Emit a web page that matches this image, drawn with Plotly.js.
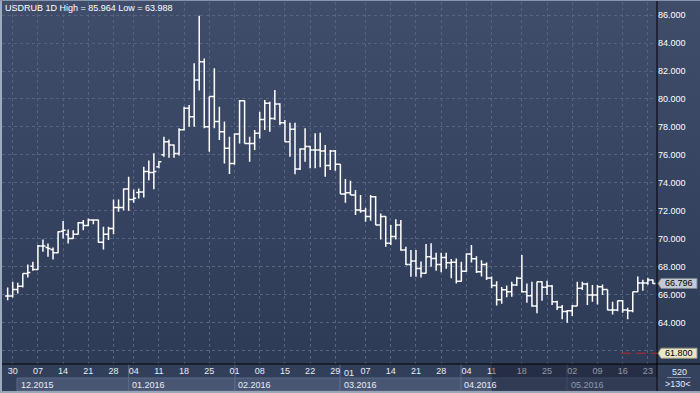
<!DOCTYPE html>
<html><head><meta charset="utf-8">
<script src="https://cdn.plot.ly/plotly-3.0.1.min.js"></script>
<style>
html,body{margin:0;padding:0;background:#2e3b57;}
#chart{width:700px;height:393px;background:linear-gradient(to bottom,#3f4d6b 0px,#2e3b57 364px,#2e3b57 393px);}
</style></head><body><div id="chart"></div>
<script>
// ---- data (daily USDRUB bars, oldest first) ----
const openP = [65.89,65.89,66.36,66.60,67.51,68.03,67.79,69.47,69.37,69.23,
 68.99,70.54,70.30,70.02,70.32,71.14,70.95,71.33,71.33,69.75,
 70.32,70.73,72.23,72.23,73.55,72.80,73.30,73.35,74.80,74.73,
 75.15,76.00,76.94,76.71,76.10,77.80,79.33,78.73,81.36,82.67,
 78.02,80.17,78.38,77.66,76.47,75.39,77.49,79.88,76.82,76.82,
 77.54,78.54,79.69,78.61,79.64,78.30,76.94,77.83,74.99,76.42,
 76.60,76.35,76.35,76.28,75.23,76.28,75.32,73.20,73.29,73.13,
 72.05,72.00,71.58,73.01,70.98,71.58,69.67,70.15,70.98,69.19,
 68.16,68.40,67.87,67.52,68.71,68.59,68.15,68.65,68.28,68.32,
 66.95,67.66,68.90,68.57,67.64,68.15,67.18,66.65,65.63,66.35,
 66.21,66.68,67.16,66.21,65.92,65.18,66.92,66.52,66.61,65.49,
 65.09,64.78,64.85,65.18,66.45,66.76,65.97,65.97,66.56,66.37,
 64.89,64.89,65.55,64.90,64.85,66.21,66.82,66.82,67.05];
const highP = [66.51,66.91,66.84,67.51,68.15,68.34,69.54,69.94,69.66,69.37,
 70.54,71.26,70.66,70.61,71.20,71.33,71.45,71.38,71.35,70.85,
 70.85,72.81,72.81,73.59,74.43,73.52,73.60,75.15,75.60,76.11,
 75.56,77.30,77.10,76.75,77.90,79.45,79.57,82.55,85.964,82.90,
 80.17,82.20,79.45,78.38,77.30,77.54,79.93,79.90,77.30,77.78,
 79.09,79.93,79.80,80.64,79.69,78.50,78.30,78.30,76.47,77.90,
 76.65,77.54,77.59,76.71,76.35,76.35,75.32,74.27,74.15,73.49,
 73.13,72.22,73.13,73.05,71.80,71.60,70.98,71.39,71.34,69.43,
 69.19,69.19,68.36,69.62,69.67,69.00,69.00,69.00,68.55,68.59,
 68.35,68.95,69.55,68.75,68.45,68.30,67.30,66.95,66.55,66.65,
 66.92,67.28,68.83,66.80,66.92,66.92,66.95,66.99,66.68,65.56,
 65.25,64.89,65.25,66.92,66.92,66.85,66.68,66.68,66.72,66.37,
 65.49,65.58,65.61,65.05,66.21,67.30,67.06,67.20,67.08];
const lowP = [65.60,65.79,66.08,66.51,67.22,67.70,67.75,69.06,68.70,68.51,
 68.95,70.02,69.66,70.00,70.30,70.61,70.90,71.04,69.70,69.23,
 69.90,70.32,71.92,72.04,72.00,72.57,72.88,72.95,74.19,73.53,
 75.04,75.87,75.80,75.80,75.95,77.75,78.02,78.02,80.60,77.90,
 76.23,77.90,77.06,75.39,74.63,75.30,76.82,76.82,75.51,76.35,
 77.18,77.78,77.66,78.50,78.14,76.94,75.87,74.61,74.92,75.51,
 75.04,75.04,75.11,74.44,74.92,74.87,73.20,72.58,73.13,71.70,
 71.86,71.22,71.29,70.98,69.95,69.43,69.55,69.95,69.14,68.12,
 67.28,67.28,67.23,67.50,67.99,67.70,67.60,67.85,67.16,66.80,
 66.92,67.64,68.30,67.55,67.30,67.04,66.45,65.22,65.35,65.80,
 65.85,66.61,66.14,65.42,65.13,64.66,65.56,65.97,65.25,64.89,
 64.23,63.988,64.46,65.18,66.33,65.25,65.49,65.28,65.97,64.87,
 64.58,64.80,64.70,64.23,64.74,66.17,66.28,66.70,66.76];
const closeP = [65.89,66.36,66.60,67.51,67.58,67.79,69.47,69.47,69.30,68.99,
 70.49,70.61,70.02,70.32,71.14,70.95,71.33,71.33,69.75,70.32,
 70.73,72.23,72.23,73.55,72.80,72.90,73.35,74.80,74.73,74.80,
 75.51,76.94,76.71,76.10,77.80,79.33,78.73,81.36,82.67,78.02,
 80.17,78.38,77.66,76.47,75.39,77.49,79.88,76.82,76.82,77.54,
 78.54,79.69,78.61,79.64,78.30,76.94,77.83,74.99,76.42,76.60,
 76.35,76.35,76.28,75.23,76.28,75.32,73.20,73.29,73.13,72.05,
 72.00,71.58,73.01,70.98,71.58,69.67,70.15,70.98,69.19,68.16,
 68.40,67.87,67.52,68.71,68.59,68.15,68.65,68.28,68.32,66.95,
 67.66,68.90,68.57,67.64,68.15,67.18,66.65,65.63,66.35,66.21,
 66.68,67.16,66.21,65.92,65.18,66.92,66.52,66.61,65.49,65.09,
 64.78,64.85,65.18,66.45,66.76,65.97,65.97,66.56,66.37,64.89,
 64.89,65.55,64.90,64.85,66.21,66.82,66.82,67.05,66.796];

// day tick labels (bar index of each labelled day)
const dayTickIndex = [1,6,11,16,21,25,30,35,40,45,50,55,60,65,71,76,81,86,91,96,102,107,112,117,122,127];
const dayTickText  = ['30','07','14','21','28','04','11','18','25','01','08','15','22','29','07','14','21','28','04','11','18','25','02','09','16','23'];
const monthLabels  = ['12.2015','01.2016','02.2016','03.2016','04.2016','05.2016'];
const priceTicks   = [62,64,66,68,70,72,74,76,78,80,82,84,86];
const levelLine    = 61.8;
const symbol = 'USDRUB', period = '1D';
const barsCount = '520', zoomText = '>130<';

// ---- layout helpers (pixel -> paper) ----
const L = 2, R = 657, T = 2, B = 364;
const xp = px => (px - L) / (R - L);
const yp = py => (B - py) / (B - T);

const barIdx = openP.map((_, i) => i);
const lastClose = closeP[closeP.length - 1];
const hi = Math.max(...highP), lo = Math.min(...lowP);

const trace = {
  type: 'ohlc', x: barIdx, open: openP, high: highP, low: lowP, close: closeP,
  increasing: {line: {color: '#ffffff', width: 1.5}},
  decreasing: {line: {color: '#ffffff', width: 1.5}},
  tickwidth: 0.5, hoverinfo: 'none', showlegend: false
};

const gridCol = '#56647f';
const shapes = [];
// x-axis area background
shapes.push({type:'rect', xref:'paper', yref:'paper', x0:xp(0), x1:xp(700), y0:yp(393), y1:yp(364), fillcolor:'#323f5b', line:{width:0}, layer:'below'});
// month boxes (bottom row) and separators
const monthEdges = [17, 128.7, 235, 340, 461, 567, 657];
for (let m = 0; m < monthLabels.length; m++) {
  shapes.push({type:'rect', xref:'paper', yref:'paper', x0:xp(monthEdges[m]), x1:xp(monthEdges[m+1]), y0:yp(391), y1:yp(378), fillcolor:'#485674', line:{color:'#5d6a86', width:1}, layer:'below'});
  if (m > 0) shapes.push({type:'line', xref:'paper', yref:'paper', x0:xp(monthEdges[m]), x1:xp(monthEdges[m]), y0:yp(378), y1:yp(364), line:{color:'#5d6a86', width:1}, layer:'below'});
}
// dimmed (out-of-view) region of the time axis
shapes.push({type:'rect', xref:'paper', yref:'paper', x0:xp(491.7), x1:xp(657), y0:yp(391), y1:yp(364), fillcolor:'rgba(18,25,40,0.42)', line:{width:0}, layer:'above'});
// corner box
shapes.push({type:'rect', xref:'paper', yref:'paper', x0:xp(657.5), x1:xp(700), y0:yp(391), y1:yp(364), fillcolor:'#34425e', line:{width:0}, layer:'above'});
shapes.push({type:'line', xref:'paper', yref:'paper', x0:xp(667), x1:xp(691), y0:yp(377.5), y1:yp(377.5), line:{color:'#7c89a2', width:1}, layer:'above'});
// frame lines
shapes.push({type:'line', xref:'paper', yref:'paper', x0:xp(0), x1:xp(700), y0:0, y1:0, line:{color:'#000000', width:1}, layer:'above'});
shapes.push({type:'line', xref:'paper', yref:'paper', x0:1, x1:1, y0:yp(0), y1:yp(393), line:{color:'#000000', width:1}, layer:'above'});
shapes.push({type:'rect', xref:'paper', yref:'paper', x0:xp(0), x1:xp(2), y0:yp(393), y1:yp(0), fillcolor:'#9eaabd', line:{width:0}, layer:'above'});
shapes.push({type:'rect', xref:'paper', yref:'paper', x0:xp(0), x1:xp(700), y0:yp(1), y1:yp(0), fillcolor:'#8794ab', line:{width:0}, layer:'above'});
shapes.push({type:'rect', xref:'paper', yref:'paper', x0:xp(0), x1:xp(700), y0:yp(393), y1:yp(391), fillcolor:'#9aa4b6', line:{width:0}, layer:'above'});
// level line
shapes.push({type:'line', xref:'paper', yref:'y', x0:xp(621), x1:1, y0:levelLine, y1:levelLine, line:{color:'#c02828', width:1, dash:'10px,5px'}, layer:'above'});
// price tags
const tagPath = 'M1,0L4,5L40,5L40,-5L4,-5Z';
shapes.push({type:'path', xref:'paper', yref:'y', xsizemode:'pixel', ysizemode:'pixel', xanchor:1, yanchor:lastClose, path:tagPath, fillcolor:'#c5c9d1', line:{color:'#7f8592', width:1}, layer:'above'});
shapes.push({type:'path', xref:'paper', yref:'y', xsizemode:'pixel', ysizemode:'pixel', xanchor:1, yanchor:levelLine, path:tagPath, fillcolor:'#e9e6c9', line:{color:'#9a9780', width:1}, layer:'above'});

const fnt = 'Liberation Sans, Arial, sans-serif';
const annotations = [];
annotations.push({xref:'paper', yref:'paper', x:xp(2.5), y:yp(8), xanchor:'left', yanchor:'middle', showarrow:false,
  text: symbol + ' ' + period + ' High = ' + hi.toFixed(3) + ' Low = ' + lo.toFixed(3), font:{family:fnt, size:9, color:'#ffffff'}});
const monthTextX = [19, 130, 236, 342, 461.5, 568.5];
monthLabels.forEach((t, m) => {
  annotations.push({xref:'paper', yref:'paper', x:xp(monthTextX[m]), y:yp(384.5), xanchor:'left', yanchor:'middle', showarrow:false,
    text:t, font:{family:fnt, size:9, color: m === 5 ? '#8e97ab' : '#e8ecf4'}});
});
annotations.push({xref:'paper', yref:'paper', x:xp(342), y:yp(372.5), xanchor:'left', yanchor:'middle', showarrow:false, text:'01', font:{family:fnt, size:9, color:'#e8ecf4'}});
annotations.push({xref:'paper', yref:'y', x:xp(679), y:lastClose, xanchor:'center', yanchor:'middle', showarrow:false, text:lastClose.toFixed(3), font:{family:fnt, size:9, color:'#000000'}});
annotations.push({xref:'paper', yref:'y', x:xp(679), y:levelLine, xanchor:'center', yanchor:'middle', showarrow:false, text:levelLine.toFixed(3), font:{family:fnt, size:9, color:'#000000'}});
annotations.push({xref:'paper', yref:'paper', x:xp(679), y:yp(371.7), xanchor:'center', yanchor:'middle', showarrow:false, text:barsCount, font:{family:fnt, size:9, color:'#e8ecf4'}});
annotations.push({xref:'paper', yref:'paper', x:xp(678), y:yp(384.2), xanchor:'center', yanchor:'middle', showarrow:false, text:zoomText, font:{family:fnt, size:9, color:'#e8ecf4'}});

const layout = {
  width: 700, height: 393,
  margin: {l: L, r: 700 - R, t: T, b: 393 - B, pad: 0},
  paper_bgcolor: 'rgba(0,0,0,0)', plot_bgcolor: 'rgba(0,0,0,0)',
  showlegend: false,
  font: {family: fnt, size: 9, color: '#ffffff'},
  xaxis: {
    type: 'linear', range: [(L - 7.66) / 5.041, (R - 7.66) / 5.041],
    rangeslider: {visible: false},
    tickmode: 'array', tickvals: dayTickIndex, ticktext: dayTickText,
    showgrid: true, gridcolor: gridCol, griddash: '3px,3px', gridwidth: 1,
    zeroline: false, showline: false, ticks: '', tickangle: 0,
    tickfont: {family: fnt, size: 9, color: '#e8ecf4'}, fixedrange: true
  },
  yaxis: {
    side: 'right', range: [74 - (B - 182.8) / 13.97, 74 + (182.8 - T) / 13.97],
    tickmode: 'array', tickvals: priceTicks,
    // the lowest label sits under the level tag, as in the source
    ticktext: priceTicks.map(v => v <= levelLine + 0.5 ? '' : v.toFixed(3)),
    showgrid: true, gridcolor: gridCol, griddash: '3px,3px', gridwidth: 1,
    zeroline: false, showline: false, ticks: '',
    tickfont: {family: fnt, size: 9, color: '#ffffff'}, fixedrange: true
  },
  shapes: shapes,
  annotations: annotations
};

Plotly.newPlot('chart', [trace], layout, {displayModeBar: false, staticPlot: true});
</script>
</body></html>
